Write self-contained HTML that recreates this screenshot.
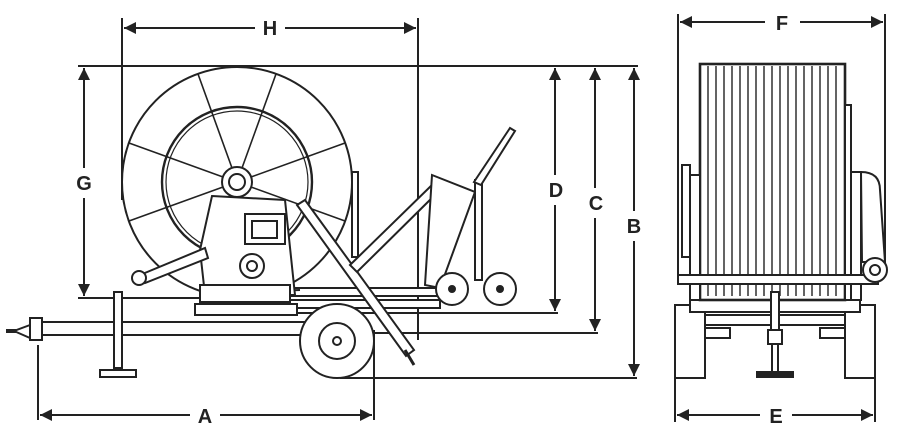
<!DOCTYPE html>
<html><head><style>
html,body{margin:0;padding:0;background:#fff;width:900px;height:446px;overflow:hidden}
text{font-family:"Liberation Sans",sans-serif;font-weight:bold;font-size:20px;fill:#222}
</style></head><body>
<svg width="900" height="446" viewBox="0 0 900 446" xmlns="http://www.w3.org/2000/svg">
<defs>
<marker id="ar" viewBox="0 0 10 10" refX="10" refY="5" markerWidth="6" markerHeight="6" orient="auto-start-reverse"><path d="M0,0 L10,5 L0,10 z" fill="#222"/></marker>
</defs>
<g stroke="#222" stroke-width="2" fill="none">
<line x1="122" y1="18" x2="122" y2="200"/>
<line x1="418" y1="18" x2="418" y2="340"/>
<line x1="78" y1="66" x2="638" y2="66"/>
<line x1="78" y1="298" x2="200" y2="298"/>
<line x1="290" y1="313" x2="558" y2="313"/>
<line x1="360" y1="333" x2="598" y2="333"/>
<line x1="340" y1="378" x2="637" y2="378"/>
<line x1="38" y1="345" x2="38" y2="420"/>
<line x1="374" y1="330" x2="374" y2="420"/>
<line x1="678" y1="14" x2="678" y2="282"/>
<line x1="885" y1="14" x2="885" y2="272"/>
<line x1="675" y1="378" x2="675" y2="422"/>
<line x1="875" y1="378" x2="875" y2="422"/>
<line x1="124" y1="28" x2="255" y2="28" marker-start="url(#ar)"/>
<line x1="285" y1="28" x2="416" y2="28" marker-end="url(#ar)"/>
<line x1="84" y1="68" x2="84" y2="168" marker-start="url(#ar)"/>
<line x1="84" y1="198" x2="84" y2="296" marker-end="url(#ar)"/>
<line x1="555" y1="68" x2="555" y2="175" marker-start="url(#ar)"/>
<line x1="555" y1="205" x2="555" y2="311" marker-end="url(#ar)"/>
<line x1="595" y1="68" x2="595" y2="188" marker-start="url(#ar)"/>
<line x1="595" y1="218" x2="595" y2="331" marker-end="url(#ar)"/>
<line x1="634" y1="68" x2="634" y2="211" marker-start="url(#ar)"/>
<line x1="634" y1="241" x2="634" y2="376" marker-end="url(#ar)"/>
<line x1="40" y1="415" x2="190" y2="415" marker-start="url(#ar)"/>
<line x1="220" y1="415" x2="372" y2="415" marker-end="url(#ar)"/>
<line x1="680" y1="22" x2="765" y2="22" marker-start="url(#ar)"/>
<line x1="800" y1="22" x2="883" y2="22" marker-end="url(#ar)"/>
<line x1="677" y1="415" x2="760" y2="415" marker-start="url(#ar)"/>
<line x1="792" y1="415" x2="873" y2="415" marker-end="url(#ar)"/>
</g>
<g font-size="20">
<text x="270" y="35" text-anchor="middle">H</text>
<text x="84" y="190" text-anchor="middle">G</text>
<text x="556" y="197" text-anchor="middle">D</text>
<text x="596" y="210" text-anchor="middle">C</text>
<text x="634" y="233" text-anchor="middle">B</text>
<text x="205" y="423" text-anchor="middle">A</text>
<text x="782" y="30" text-anchor="middle">F</text>
<text x="776" y="423" text-anchor="middle">E</text>
</g>
<g stroke="#222" stroke-width="2" fill="#fff">
<circle cx="237" cy="182" r="115"/>
<circle cx="237" cy="182" r="75" fill="none" stroke-width="2.4"/>
<circle cx="237" cy="182" r="71" fill="none" stroke-width="1.2"/>
<g fill="none" stroke-width="1.6">
<line x1="232" y1="168" x2="198" y2="74"/>
<line x1="242" y1="168" x2="276" y2="74"/>
<line x1="251" y1="177" x2="345" y2="143"/>
<line x1="251" y1="187" x2="345" y2="221"/>
<line x1="223" y1="177" x2="129" y2="143"/>
<line x1="223" y1="187" x2="129" y2="221"/>
</g>
<circle cx="237" cy="182" r="15"/><circle cx="237" cy="182" r="8"/>
<rect x="40" y="322" width="270" height="13"/>
<rect x="30" y="318" width="12" height="22"/>
<path d="M30 325 L14 331 L30 338 z"/>
<line x1="6" y1="331" x2="16" y2="331" stroke-width="4"/>
<rect x="114" y="292" width="8" height="76"/>
<rect x="100" y="370" width="36" height="7"/>
<rect x="290" y="288" width="150" height="8"/>
<rect x="290" y="300" width="150" height="8"/>
<line x1="220" y1="293" x2="300" y2="290"/>
<rect x="195" y="304" width="102" height="11"/>
<path d="M212 196 L285 200 L295 295 L205 295 L200 250 z"/>
<rect x="245" y="214" width="40" height="30"/>
<rect x="252" y="221" width="25" height="17"/>
<circle cx="252" cy="266" r="12"/><circle cx="252" cy="266" r="5"/>
<rect x="200" y="285" width="90" height="17"/>
<path d="M140 275 L205 248 L208 258 L145 283 z"/>
<circle cx="139" cy="278" r="7"/>
<path d="M297 205 L305 200 L414 350 L406 356 z"/>
<line x1="405" y1="350" x2="414" y2="365" stroke-width="3"/>
<rect x="352" y="172" width="6" height="85"/>
<path d="M350 265 L435 182 L442 188 L357 272 z"/>
<path d="M432 175 L475 192 L440 288 L425 285 z"/>
<path d="M475 180 L475 280 L482 280 L482 180 z"/>
<path d="M474 182 L510 128 L515 131 L481 185 z"/>
<circle cx="452" cy="289" r="16"/><circle cx="452" cy="289" r="3" fill="#222"/>
<circle cx="500" cy="289" r="16"/><circle cx="500" cy="289" r="3" fill="#222"/>
<circle cx="337" cy="341" r="37"/><circle cx="337" cy="341" r="18"/><circle cx="337" cy="341" r="4"/>
</g>
<g stroke="#222" stroke-width="2" fill="#fff">
<rect x="675" y="305" width="30" height="73"/>
<rect x="845" y="305" width="30" height="73"/>
<rect x="690" y="298" width="170" height="14"/>
<rect x="705" y="315" width="140" height="10"/>
<rect x="705" y="328" width="25" height="10"/>
<rect x="820" y="328" width="25" height="10"/>
<rect x="700" y="64" width="145" height="236" stroke-width="2.6"/>
<g stroke-width="1.4">
<line x1="708" y1="66" x2="708" y2="296"/><line x1="716" y1="66" x2="716" y2="296"/><line x1="724" y1="66" x2="724" y2="296"/><line x1="732" y1="66" x2="732" y2="296"/><line x1="740" y1="66" x2="740" y2="296"/><line x1="748" y1="66" x2="748" y2="296"/><line x1="756" y1="66" x2="756" y2="296"/><line x1="764" y1="66" x2="764" y2="296"/><line x1="772" y1="66" x2="772" y2="296"/><line x1="780" y1="66" x2="780" y2="296"/><line x1="788" y1="66" x2="788" y2="296"/><line x1="796" y1="66" x2="796" y2="296"/><line x1="804" y1="66" x2="804" y2="296"/><line x1="812" y1="66" x2="812" y2="296"/><line x1="820" y1="66" x2="820" y2="296"/><line x1="828" y1="66" x2="828" y2="296"/><line x1="836" y1="66" x2="836" y2="296"/>
</g>
<rect x="682" y="165" width="8" height="92"/>
<rect x="690" y="175" width="10" height="125"/>
<rect x="845" y="105" width="6" height="195"/>
<rect x="851" y="172" width="10" height="128"/>
<path d="M861 172 Q880 172 880 190 L885 262 L862 262 z"/>
<rect x="678" y="275" width="200" height="9"/>
<circle cx="875" cy="270" r="12"/><circle cx="875" cy="270" r="5"/>
<rect x="771" y="292" width="8" height="40"/>
<rect x="768" y="330" width="14" height="14"/>
<rect x="772" y="344" width="6" height="28"/>
<rect x="757" y="372" width="36" height="5" fill="#222"/>
</g>
</svg>
</body></html>
